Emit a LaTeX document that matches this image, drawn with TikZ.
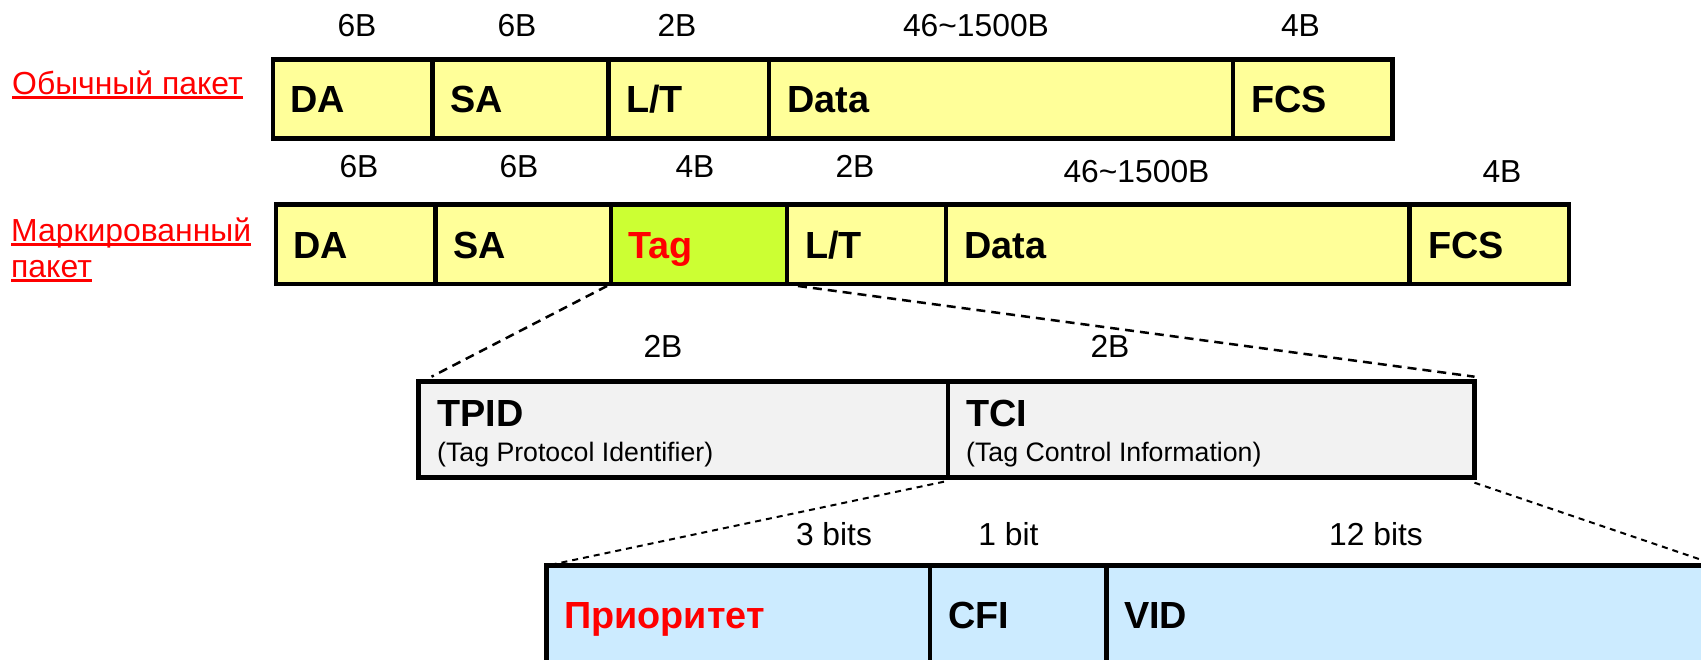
\documentclass[tikz,border=0pt]{standalone}
\usepackage{fontspec}
\setmainfont{Liberation Sans}
\definecolor{yel}{HTML}{FFFF99}
\definecolor{tagg}{HTML}{CCFF33}
\definecolor{gry}{HTML}{F2F2F2}
\definecolor{blu}{HTML}{CCEBFF}
\newsavebox\ulbox
\newcommand\myul[1]{\sbox\ulbox{#1}\rlap{\raisebox{-4pt}{\rule{\wd\ulbox}{3pt}}}\usebox\ulbox}
\tikzset{
  fld/.style={draw=black, line width=4.5pt, inner sep=0pt, outer sep=0pt, anchor=north west},
  bigb/.style={font=\fontsize{37.8}{45}\selectfont\bfseries, inner sep=0pt, anchor=base west},
  sz/.style={font=\fontsize{31.8}{38}\selectfont, inner sep=0pt, anchor=base},
  sm/.style={font=\fontsize{26.7}{32}\selectfont, inner sep=0pt, anchor=base west},
  rl/.style={font=\fontsize{31.9}{38}\selectfont, text=red, inner sep=0pt, anchor=base west},
  dsh/.style={line width=2.5pt, dash pattern=on 9pt off 6pt},
  dshs/.style={line width=2pt, dash pattern=on 6pt off 5pt}
}
\begin{document}
\begin{tikzpicture}[x=1pt,y=-1pt]
\useasboundingbox (0,0) rectangle (1701,660);
\clip (0,0) rectangle (1701,660);
\fill[white] (0,0) rectangle (1701,660);

% left labels
\node[rl] (lab1) at (12,95) {\myul{Обычный пакет}};
\node[rl] (lab2a) at (11,242) {\myul{Маркированный}};
\node[rl] (lab2b) at (11,278) {\myul{пакет}};

% row 1
\node[fld, fill=yel, minimum width=159.5, minimum height=79] (r1da) at (273,59.5) {};
\node[fld, fill=yel, minimum width=176, minimum height=79] (r1sa) at (432.5,59.5) {};
\node[fld, fill=yel, minimum width=160.5, minimum height=79] (r1lt) at (608.5,59.5) {};
\node[fld, fill=yel, minimum width=464, minimum height=79] (r1data) at (769,59.5) {};
\node[fld, fill=yel, minimum width=159.5, minimum height=79] (r1fcs) at (1233,59.5) {};
\node[bigb] (t1da) at (290,112.5) {DA};
\node[bigb] (t1sa) at (450,112.5) {SA};
\node[bigb] (t1lt) at (626,112.5) {L/T};
\node[bigb] (t1data) at (787,112.5) {Data};
\node[bigb] (t1fcs) at (1251,112.5) {FCS};
\node[sz] (s1a) at (357,37) {6B};
\node[sz] (s1b) at (517,37) {6B};
\node[sz] (s1c) at (677,37) {2B};
\node[sz] (s1d) at (976,37) {46\textasciitilde1500B};
\node[sz] (s1e) at (1300.5,37) {4B};

% row 2
\node[fld, fill=yel, minimum width=159.5, minimum height=79.5] (r2da) at (276,204.5) {};
\node[fld, fill=yel, minimum width=175.5, minimum height=79.5] (r2sa) at (435.5,204.5) {};
\node[fld, fill=tagg, minimum width=176, minimum height=79.5] (r2tag) at (611,204.5) {};
\node[fld, fill=yel, minimum width=159, minimum height=79.5] (r2lt) at (787,204.5) {};
\node[fld, fill=yel, minimum width=463.5, minimum height=79.5] (r2data) at (946,204.5) {};
\node[fld, fill=yel, minimum width=159.5, minimum height=79.5] (r2fcs) at (1409.5,204.5) {};
\node[bigb] (t2da) at (293,258.3) {DA};
\node[bigb] (t2sa) at (453,258.3) {SA};
\node[bigb, text=red] (t2tag) at (628,258.3) {Tag};
\node[bigb] (t2lt) at (805,258.3) {L/T};
\node[bigb] (t2data) at (964,258.3) {Data};
\node[bigb] (t2fcs) at (1428,258.3) {FCS};
\node[sz] (s2a) at (359,178) {6B};
\node[sz] (s2b) at (519,178) {6B};
\node[sz] (s2c) at (695,178) {4B};
\node[sz] (s2d) at (855,178) {2B};
\node[sz] (s2e) at (1136.5,183) {46\textasciitilde1500B};
\node[sz] (s2f) at (1502,183) {4B};

% tag detail
\node[fld, fill=gry, minimum width=529.5, minimum height=96] (tpid) at (418.5,381.7) {};
\node[fld, fill=gry, minimum width=526.5, minimum height=96] (tci) at (948,381.7) {};
\node[bigb] (ttpid) at (437,426.7) {TPID};
\node[sm] (ttpids) at (437,461.5) {(Tag Protocol Identifier)};
\node[bigb] (ttci) at (966,426.7) {TCI};
\node[sm] (ttcis) at (966,461.5) {(Tag Control Information)};
\node[sz] (s3a) at (663,357.5) {2B};
\node[sz] (s3b) at (1110,357.5) {2B};

% TCI detail
\node[fld, fill=blu, minimum width=383.5, minimum height=140] (prio) at (546.5,565.5) {};
\node[fld, fill=blu, minimum width=176.5, minimum height=140] (cfi) at (930,565.5) {};
\node[fld, fill=blu, minimum width=611.5, minimum height=140] (vid) at (1106.5,565.5) {};
\node[bigb, text=red] (tprio) at (564,628) {Приоритет};
\node[bigb] (tcfi) at (948,628) {CFI};
\node[bigb] (tvid) at (1124,628) {VID};
\node[sz] (s4a) at (834,545) {3 bits};
\node[sz] (s4b) at (1008.5,545) {1 bit};
\node[sz] (s4c) at (1376,545) {12 bits};

% dashed connectors
\draw[dsh] ([shift={(-4pt,-2pt)}]r2tag.south west) -- ([shift={(13pt,5pt)}]tpid.north west);
\draw[dsh] ([shift={(11pt,-2pt)}]r2tag.south east) -- ([shift={(0pt,5pt)}]tci.north east);
\draw[dshs] ([shift={(-4pt,-4pt)}]tci.south west) -- ([shift={(1pt,0pt)}]prio.north west);
\draw[dshs] ([shift={(0pt,-5pt)}]tci.south east) -- (vid.north east);
\end{tikzpicture}
\end{document}
